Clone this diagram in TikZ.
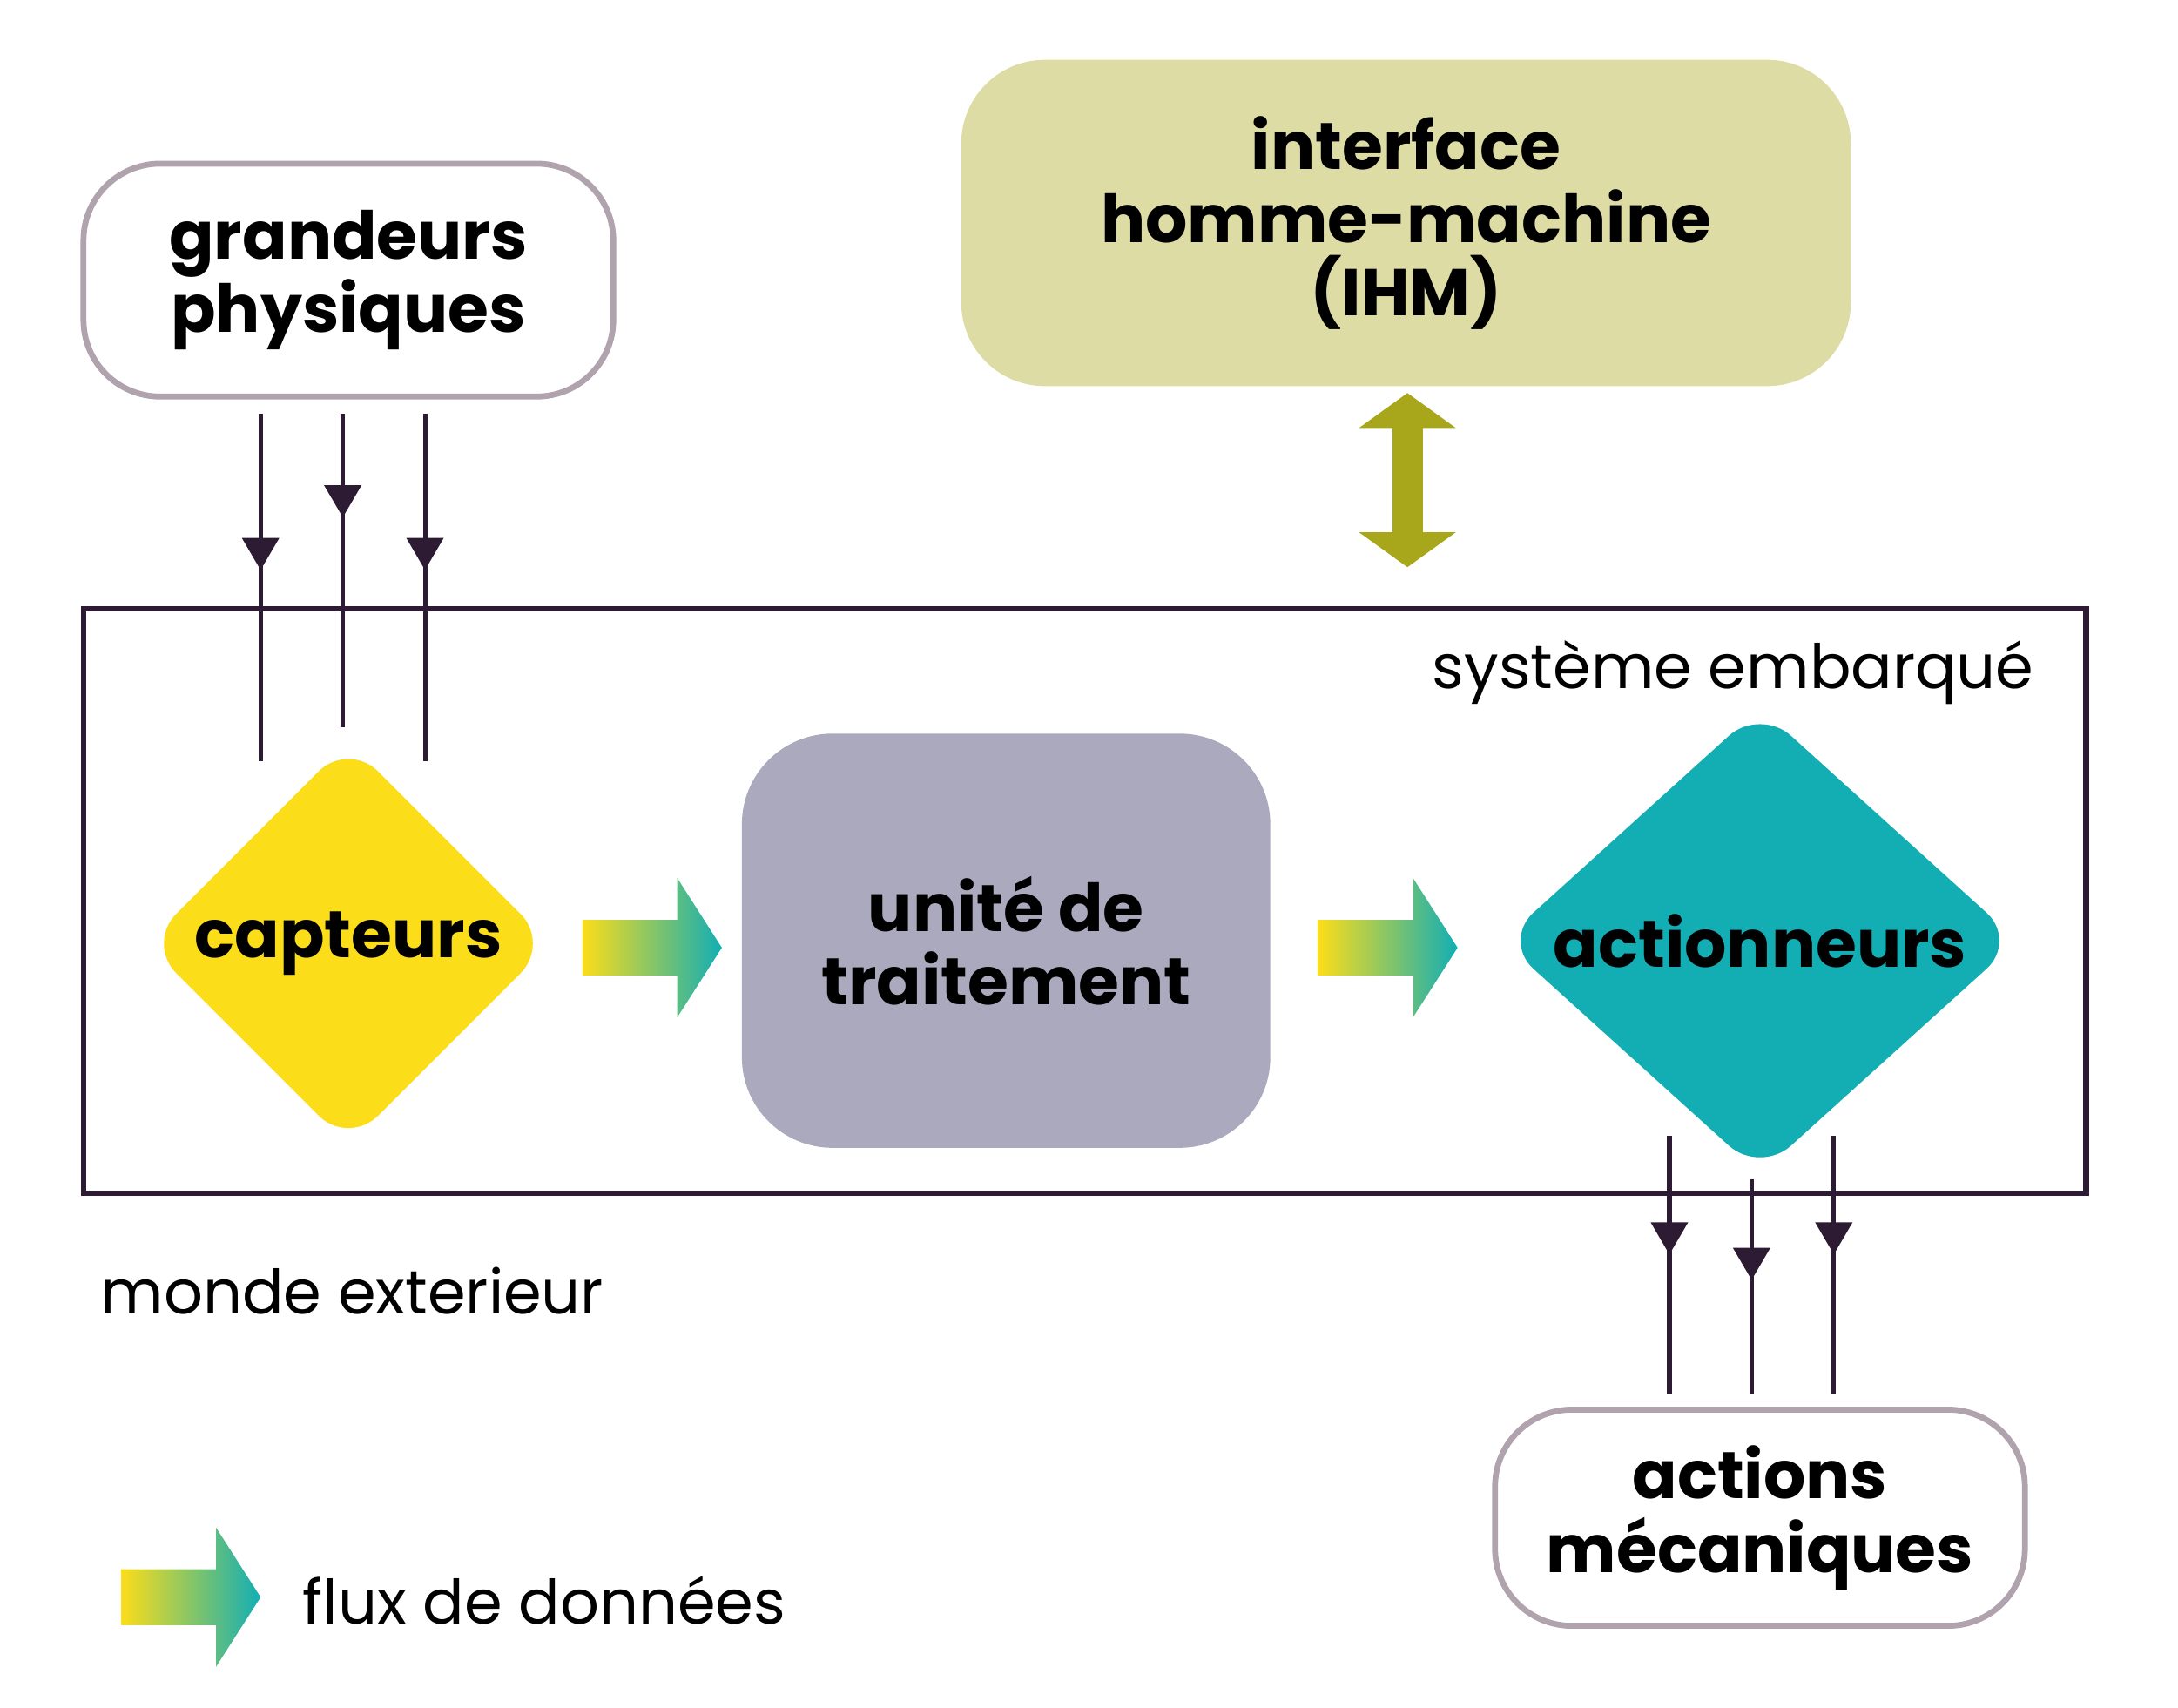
\documentclass[tikz,border=0pt]{standalone}
\usepackage{fontspec}
\setmainfont{Poppins}
\usetikzlibrary{shapes.geometric, arrows.meta, decorations.markings, positioning}
\definecolor{deep}{HTML}{2D1A33}
\definecolor{frame}{HTML}{B0A3AD}
\definecolor{ihm}{HTML}{DDDCA5}
\definecolor{olive}{HTML}{A8A61A}
\definecolor{sun}{HTML}{FBDD1A}
\definecolor{lilac}{HTML}{ABA9BD}
\definecolor{teal}{HTML}{12AEB4}
\definecolor{midgreen}{HTML}{98B42A}
\tikzset{
  big/.style = {font=\fontsize{13.5}{15}\selectfont\bfseries, align=center, text=black},
  small/.style = {font=\fontsize{12.5}{14}\selectfont, text=black},
  outer/.style = {draw=frame, line width=1.2pt, fill=white, rounded corners=0.55cm, big},
  signal/.style = {draw=deep, line width=0.9pt},
  head/.style = {postaction={decorate}, decoration={markings,
      mark=at position #1 with {\arrow{Triangle[width=2.6mm,length=2.3mm]}}}},
  flow/.pic = {\shade[left color=sun, middle color=midgreen, right color=teal]
      (0,30) -- (68,30) -- (68,0) -- (100,50) -- (68,100) -- (68,70) -- (0,70) -- cycle;}
}
\begin{document}
\begin{tikzpicture}[x=0.01cm, y=-0.01cm]
  \useasboundingbox (0,0) rectangle (1563,1225);

  % boxes outside
  \node (grand) [outer, minimum width=3.8cm, minimum height=1.67cm] at (250,201) {grandeurs\\physiques};
  \node (ihmbox) [fill=ihm, rounded corners=0.6cm, big, minimum width=6.38cm, minimum height=2.34cm] at (1009,160) {interface\\homme-machine\\(IHM)};
  \node (actm) [outer, minimum width=3.8cm, minimum height=1.55cm] at (1263,1089) {actions\\mécaniques};

  % embedded system
  \draw [deep, line width=1.1pt] (60,437) rectangle (1497,856);
  \node (sys) [small, anchor=base east] at (1472,494) {système embarqué};
  \node (monde) [small, anchor=base west] at (60,943) {monde exterieur};

  \node (capt) [diamond, fill=sun, rounded corners=0.3cm, inner sep=0, minimum width=2.9cm, minimum height=2.9cm, big] at (250,677) {capteurs};
  \node (unite) [fill=lilac, rounded corners=0.65cm, minimum width=3.79cm, minimum height=2.97cm, big] at (722,675) {unité de\\traitement};
  \node (act) [diamond, fill=teal, rounded corners=0.3cm, inner sep=0, minimum width=3.7cm, minimum height=2.84cm, big] at (1263,675) {actionneurs};

  \pic at (418,630) {flow};
  \pic at (946,630) {flow};
  \pic at (87,1096) {flow};
  \node (flux) [small, anchor=west] at (205,1148) {ﬂux de données};

  % IHM link
  \coordinate (ihmT) at (1010,282);
  \coordinate (ihmB) at (1010,407);
  \draw [olive, line width=0.22cm, {Triangle[width=0.68cm,length=0.25cm]}-{Triangle[width=0.68cm,length=0.25cm]}] (ihmT) -- (ihmB);

  % inputs
  \coordinate (inA) at (187,297);  \coordinate (inA') at (187,546);
  \coordinate (inB) at (246,297);  \coordinate (inB') at (246,522);
  \coordinate (inC) at (305,297);  \coordinate (inC') at (305,546);
  \draw [signal, head=0.45] (inA) -- (inA');
  \draw [signal, head=0.33] (inB) -- (inB');
  \draw [signal, head=0.45] (inC) -- (inC');

  % outputs
  \coordinate (outA) at (1198,815);  \coordinate (outA') at (1198,1000);
  \coordinate (outB) at (1257,846);  \coordinate (outB') at (1257,1000);
  \coordinate (outC) at (1316,815);  \coordinate (outC') at (1316,1000);
  \draw [signal, head=0.46] (outA) -- (outA');
  \draw [signal, head=0.47] (outB) -- (outB');
  \draw [signal, head=0.46] (outC) -- (outC');
\end{tikzpicture}
\end{document}
